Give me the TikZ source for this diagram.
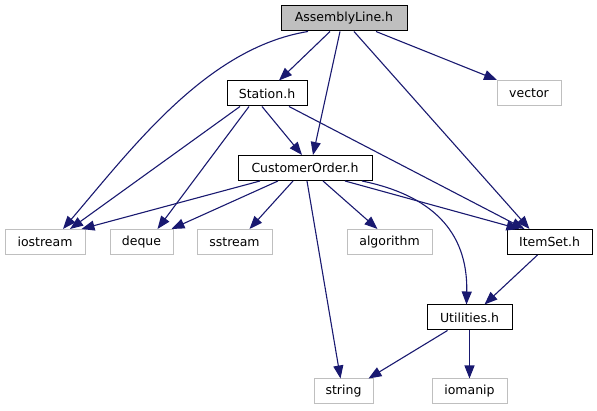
\documentclass[tikz,border=0pt]{standalone}
\usepackage{fontspec}
\setmainfont{DejaVu Sans}
\usetikzlibrary{arrows.meta}
\definecolor{edgeblue}{RGB}{25,25,112}
\definecolor{extgrey}{RGB}{191,191,191}
\begin{document}
\begin{tikzpicture}[x=1pt, y=-1pt, every node/.style={font=\fontsize{12.5}{14}\selectfont},
  hdr/.style={draw=black, line width=1pt, fill=white, minimum height=25pt, inner sep=0pt},
  ext/.style={draw=extgrey, line width=1pt, fill=white, minimum height=25pt, inner sep=0pt},
  dep/.style={draw=edgeblue, line width=1.1pt, -{Triangle[length=13pt, width=10pt]}}]
  \useasboundingbox (0,0) rectangle (597,411);
  % project headers
  \node[hdr, fill=extgrey, minimum width=126pt] (asm) at (344,18.5) {AssemblyLine.h};
  \node[hdr, minimum width=80pt] (sta) at (267,93.5) {Station.h};
  \node[hdr, minimum width=134pt] (cust) at (305,168) {CustomerOrder.h};
  \node[hdr, minimum width=85pt] (item) at (549.5,242) {ItemSet.h};
  \node[hdr, minimum width=85pt] (util) at (469.5,317.5) {Utilities.h};
  % standard headers
  \node[ext, minimum width=64pt] (vec) at (529,93) {vector};
  \node[ext, minimum width=80pt] (ios) at (45,242) {iostream};
  \node[ext, minimum width=63pt] (deq) at (141.5,242) {deque};
  \node[ext, minimum width=75pt] (sst) at (234.5,242) {sstream};
  \node[ext, minimum width=85pt] (alg) at (389.5,242) {algorithm};
  \node[ext, minimum width=59pt] (str) at (343.5,391.5) {string};
  \node[ext, minimum width=75pt] (iom) at (469.5,391.5) {iomanip};
  % AssemblyLine.h
  \draw[dep] ([xshift=-36pt]asm.south) .. controls (207,48) and (133,147) .. ([xshift=18pt]ios.north);
  \draw[dep] ([xshift=-14pt]asm.south) -- ([xshift=12pt]sta.north);
  \draw[dep] ([xshift=-4pt]asm.south) -- ([xshift=8pt]cust.north);
  \draw[dep] ([xshift=10pt]asm.south) -- ([xshift=-20pt]item.north);
  \draw[dep] ([xshift=32pt]asm.south) -- ([xshift=-32pt]vec.north);
  % Station.h
  \draw[dep] ([xshift=-27pt]sta.south) -- ([xshift=25pt]ios.north);
  \draw[dep] ([xshift=-18pt]sta.south) -- ([xshift=16pt]deq.north);
  \draw[dep] ([xshift=-5pt]sta.south) -- ([xshift=-3pt]cust.north);
  \draw[dep] ([xshift=22pt]sta.south) -- ([xshift=-25pt]item.north);
  % CustomerOrder.h
  \draw[dep] ([xshift=-45pt]cust.south) -- ([xshift=-4pt]ios.north east);
  \draw[dep] ([xshift=-27pt]cust.south) -- ([xshift=-2pt]deq.north east);
  \draw[dep] ([xshift=-12pt]cust.south) -- ([xshift=15pt]sst.north);
  \draw[dep] ([xshift=18pt]cust.south) -- ([xshift=-12pt]alg.north);
  \draw[dep] ([xshift=40pt]cust.south) -- ([xshift=-30pt]item.north);
  \draw[dep] ([xshift=2pt]cust.south) -- ([xshift=-3pt]str.north);
  \draw[dep] ([xshift=57pt]cust.south) .. controls (430,195) and (468,230) .. ([xshift=-3pt]util.north);
  % ItemSet.h, Utilities.h
  \draw[dep] ([xshift=-12pt]item.south) -- ([xshift=15pt]util.north);
  \draw[dep] ([xshift=-22pt]util.south) -- ([xshift=-5pt]str.north east);
  \draw[dep] (util.south) -- (iom.north);
\end{tikzpicture}
\end{document}
